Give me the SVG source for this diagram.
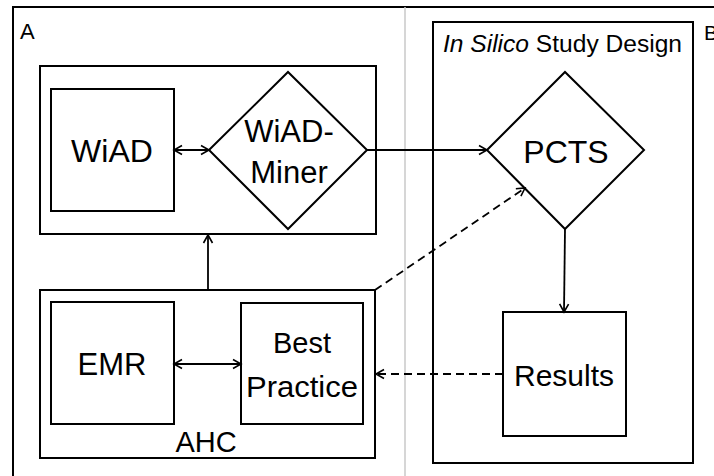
<svg xmlns="http://www.w3.org/2000/svg" width="714" height="476" viewBox="0 0 714 476">
<style>
.box{fill:none;stroke:#000;stroke-width:2}
.t{font-family:"Liberation Sans",Arial,sans-serif;fill:#000;text-anchor:middle}
.c{fill:none;stroke:#000;stroke-width:1.8}
.d{stroke-dasharray:8 5}
</style>
<defs>
<marker id="ah" markerWidth="12" markerHeight="12" refX="10" refY="6" orient="auto-start-reverse" markerUnits="userSpaceOnUse">
<path d="M2,1.5 L10,6 L2,10.5" fill="none" stroke="#000" stroke-width="1.6"/>
</marker>
</defs>
<rect width="714" height="476" fill="#fff"/>
<g id="frame">
<path d="M13,476 V7 H714" class="box"/>
<line x1="405" y1="7" x2="405" y2="476" stroke="#c8c8c8" stroke-width="1.5"/>
<text x="20" y="39" class="t" style="text-anchor:start;font-size:22px">A</text>
<text x="704" y="40" class="t" style="text-anchor:start;font-size:21px">B</text>
</g>
<g id="panelA-top">
<rect x="40" y="66" width="336" height="168" class="box"/>
</g>
<g id="wiad">
<rect x="51" y="89" width="123" height="122" class="box"/>
<text x="112" y="162" class="t" style="font-size:32px">WiAD</text>
</g>
<g id="wiad-miner">
<polygon points="209,150 288,72 367,150 288,229" class="box"/>
<text x="289" y="142" class="t" style="font-size:31px">WiAD-</text>
<text x="289" y="183" class="t" style="font-size:31px">Miner</text>
</g>
<g id="ahc">
<rect x="40" y="290" width="335" height="168" class="box"/>
<text x="206" y="452" class="t" style="font-size:29px">AHC</text>
</g>
<g id="emr">
<rect x="51" y="302" width="123" height="122" class="box"/>
<text x="112" y="375" class="t" style="font-size:31px">EMR</text>
</g>
<g id="best-practice">
<rect x="241" y="303" width="122" height="121" class="box"/>
<text x="302" y="353" class="t" style="font-size:29px">Best</text>
<text x="302" y="397" class="t" style="font-size:29px" textLength="112" lengthAdjust="spacingAndGlyphs">Practice</text>
</g>
<g id="study-design">
<rect x="433" y="22" width="260" height="441" class="box"/>
<text x="443" y="52" class="t" style="text-anchor:start;font-size:23px" textLength="239" lengthAdjust="spacingAndGlyphs"><tspan font-style="italic">In Silico</tspan> Study Design</text>
</g>
<g id="pcts">
<polygon points="487,150 565,72 644,150 565,229" class="box"/>
<text x="566" y="163" class="t" style="font-size:32px">PCTS</text>
</g>
<g id="results">
<rect x="503" y="312" width="123" height="124" class="box"/>
<text x="564" y="386" class="t" style="font-size:30px">Results</text>
</g>
<g id="connectors">
<line x1="174" y1="150" x2="209" y2="150" class="c" marker-start="url(#ah)" marker-end="url(#ah)"/>
<line x1="367" y1="150" x2="487" y2="150" class="c" marker-end="url(#ah)"/>
<line x1="208" y1="290" x2="208" y2="235" class="c" marker-end="url(#ah)"/>
<line x1="174" y1="364" x2="241" y2="364" class="c" marker-start="url(#ah)" marker-end="url(#ah)"/>
<line x1="375" y1="290" x2="525" y2="188" class="c d" marker-end="url(#ah)"/>
<line x1="503" y1="374" x2="376" y2="374" class="c d" marker-end="url(#ah)"/>
<line x1="565" y1="229" x2="564" y2="312" class="c" marker-end="url(#ah)"/>
</g>
</svg>
